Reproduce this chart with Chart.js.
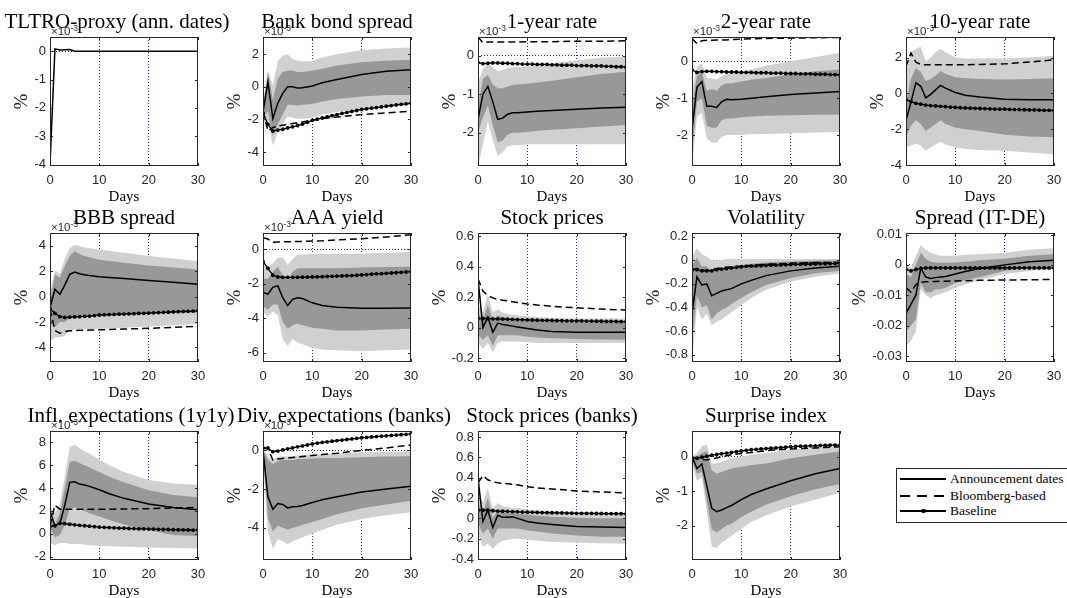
<!DOCTYPE html>
<html>
<head>
<meta charset="utf-8">
<script src="https://cdn.jsdelivr.net/npm/chart.js@4.4.1/dist/chart.umd.min.js"></script>
<style>
  body { margin: 0; background: #fff; width: 1067px; height: 598px; overflow: hidden; position: relative; }
  canvas { position: absolute; }
  #legend { position: absolute; left: 896px; top: 468px; width: 185px; height: 55px; box-sizing: border-box;
            border: 1px solid #262626; background: #fff; font-family: "Liberation Serif", serif; font-size: 13.5px; color: #000; }
  #legend .row { position: absolute; left: 3px; height: 16px; display: flex; align-items: center; white-space: nowrap; }
  #legend .smp { display: inline-block; position: relative; width: 46px; height: 1.5px; margin-right: 4px; background: #000; }
  #legend .dash { background: repeating-linear-gradient(to right, #000 0 10px, transparent 10px 17px); }
  #legend .smp i { position: absolute; left: 21px; top: -1.5px; width: 4.5px; height: 4.5px; border-radius: 50%; background: #000; }
</style>
</head>
<body>
<div id="legend">
  <div class="row" style="top:2px"><span class="smp"></span><span>Announcement dates</span></div>
  <div class="row" style="top:19px"><span class="smp dash"></span><span>Bloomberg-based</span></div>
  <div class="row" style="top:34px"><span class="smp"><i></i></span><span>Baseline</span></div>
</div>
<script>
// horizonte (días) de las series suaves y de la línea base
const days = [0, 1, 2, 3, 4, 5, 6, 7, 8, 10, 12, 15, 20, 25, 30];
const allDays = [0, 1, 2, 3, 4, 5, 6, 7, 8, 9, 10, 11, 12, 13, 14, 15, 16, 17, 18, 19, 20, 21, 22, 23, 24, 25, 26, 27, 28, 29, 30];
const xTicks = [0, 10, 20, 30];

// TLTRO-proxy (ann. dates), x10^-3
const tltroTicks = [-4, -3, -2, -1, 0];
const tltroSolid = [-4.0, 0.08, 0.04, 0.05, 0.06, 0, 0, 0, 0, 0, 0, 0, 0, 0, 0];

// Bank bond spread, x10^-3
const bankTicks = [-4, -2, 0, 2];
const bankSolid = [-1.55, 0.3, -1.95, -1.0, -0.4, 0.0, 0.0, -0.08, -0.06, 0.05, 0.25, 0.45, 0.75, 0.95, 1.05];
const bankDash = [-1.5, -2.7, -2.5, -2.4, -2.35, -2.3, -2.25, -2.2, -2.15, -2.05, -1.95, -1.85, -1.7, -1.6, -1.5];
const bankHi68 = [-1.2, 0.9, -0.8, 0.5, 0.9, 1.0, 1.0, 0.9, 0.9, 1.0, 1.1, 1.3, 1.5, 1.6, 1.65];
const bankLo68 = [-1.9, -1.5, -3.0, -2.3, -1.7, -1.1, -1.1, -1.15, -1.1, -1.05, -0.9, -0.75, -0.6, -0.5, -0.5];
const bankHi90 = [-1.0, 1.0, 0.1, 1.6, 1.9, 2.0, 1.7, 1.6, 1.55, 1.6, 1.8, 2.0, 2.25, 2.35, 2.4];
const bankLo90 = [-2.2, -2.1, -3.6, -2.8, -2.3, -1.8, -1.9, -1.95, -1.95, -1.9, -1.7, -1.55, -1.35, -1.2, -1.1];
const bankBase = [-1.6, -2.3, -2.7, -2.65, -2.6, -2.52, -2.45, -2.37, -2.28, -2.17, -2.05, -1.98, -1.91, -1.84, -1.77, -1.7,
                  -1.63, -1.57, -1.51, -1.45, -1.39, -1.35, -1.31, -1.27, -1.23, -1.19, -1.15, -1.11, -1.07, -1.04, -1.0];

// 1-year rate, x10^-3
const y1Ticks = [-2, -1, 0];
const y1Solid = [-1.65, -1.0, -0.8, -1.2, -1.65, -1.62, -1.52, -1.48, -1.48, -1.46, -1.44, -1.42, -1.39, -1.36, -1.34];
const y1Dash = [0.48, 0.33, 0.35, 0.35, 0.35, 0.35, 0.35, 0.35, 0.35, 0.36, 0.36, 0.36, 0.37, 0.37, 0.38];
const y1Hi68 = [-1.3, -0.6, -0.5, -0.75, -0.85, -0.85, -0.8, -0.76, -0.75, -0.73, -0.7, -0.65, -0.56, -0.48, -0.42];
const y1Lo68 = [-2.0, -1.6, -1.3, -1.8, -2.25, -2.2, -2.05, -2.0, -2.0, -1.98, -1.95, -1.92, -1.88, -1.84, -1.8];
const y1Hi90 = [-0.7, -0.35, -0.2, -0.3, -0.4, -0.38, -0.32, -0.3, -0.3, -0.28, -0.25, -0.2, -0.12, -0.06, -0.03];
const y1Lo90 = [-2.86, -2.3, -1.7, -2.2, -2.6, -2.5, -2.35, -2.32, -2.32, -2.3, -2.3, -2.3, -2.3, -2.3, -2.3];
const y1Base = [-0.18, -0.21, -0.2, -0.19, -0.19, -0.2, -0.2, -0.21, -0.21, -0.22, -0.22, -0.22, -0.23, -0.23, -0.23, -0.24,
                -0.24, -0.25, -0.25, -0.25, -0.26, -0.26, -0.26, -0.27, -0.27, -0.27, -0.28, -0.28, -0.29, -0.29, -0.3];

// 2-year rate, x10^-3
const y2Ticks = [-2, -1, 0];
const y2Solid = [-1.85, -0.7, -0.55, -1.22, -1.22, -1.25, -1.1, -1.03, -1.04, -1.03, -1.0, -0.96, -0.9, -0.86, -0.82];
const y2Dash = [0.62, 0.48, 0.56, 0.57, 0.57, 0.58, 0.58, 0.58, 0.59, 0.6, 0.61, 0.62, 0.63, 0.64, 0.65];
const y2Hi68 = [-1.2, -0.4, -0.3, -0.8, -0.75, -0.8, -0.65, -0.6, -0.6, -0.55, -0.5, -0.45, -0.35, -0.27, -0.22];
const y2Lo68 = [-2.5, -1.1, -1.0, -1.75, -1.8, -1.8, -1.6, -1.55, -1.55, -1.52, -1.5, -1.48, -1.46, -1.45, -1.45];
const y2Hi90 = [-0.8, -0.15, -0.05, -0.45, -0.45, -0.5, -0.4, -0.35, -0.32, -0.28, -0.22, -0.12, 0.0, 0.12, 0.23];
const y2Lo90 = [-2.84, -1.5, -1.4, -2.1, -2.2, -2.2, -2.05, -2.0, -2.0, -2.0, -1.98, -1.97, -1.95, -1.93, -1.92];
const y2Base = [-0.23, -0.3, -0.28, -0.27, -0.27, -0.28, -0.28, -0.29, -0.29, -0.29, -0.3, -0.3, -0.3, -0.31, -0.31, -0.31,
                -0.32, -0.32, -0.32, -0.33, -0.33, -0.33, -0.34, -0.34, -0.34, -0.35, -0.35, -0.35, -0.36, -0.36, -0.37];

// 10-year rate, x10^-3
const y10Ticks = [-4, -2, 0, 2];
const y10Solid = [-1.5, -0.5, 0.6, 0.4, -0.25, -0.05, 0.2, 0.45, 0.3, 0.05, -0.1, -0.2, -0.33, -0.35, -0.35];
const y10Dash = [1.5, 2.25, 1.75, 1.62, 1.6, 1.6, 1.6, 1.6, 1.6, 1.6, 1.6, 1.62, 1.65, 1.75, 1.88];
const y10Hi68 = [-0.5, 0.8, 1.4, 1.2, 0.7, 0.8, 1.0, 1.25, 1.1, 0.9, 0.85, 0.8, 0.78, 0.8, 0.85];
const y10Lo68 = [-2.4, -1.8, -1.5, -1.7, -2.1, -1.9, -1.7, -1.5, -1.7, -1.9, -2.0, -2.1, -2.3, -2.4, -2.45];
const y10Hi90 = [1.2, 2.3, 2.5, 2.6, 1.8, 2.0, 2.3, 2.5, 2.3, 2.0, 1.95, 1.95, 1.95, 2.0, 2.1];
const y10Lo90 = [-3.0, -2.9, -2.8, -2.9, -3.2, -3.0, -2.85, -2.7, -2.85, -3.0, -3.1, -3.15, -3.2, -3.3, -3.4];
const y10Base = [-0.35, -0.45, -0.55, -0.6, -0.65, -0.68, -0.7, -0.72, -0.74, -0.76, -0.78, -0.8, -0.81, -0.82, -0.83, -0.84,
                 -0.85, -0.86, -0.87, -0.88, -0.88, -0.89, -0.9, -0.9, -0.91, -0.92, -0.92, -0.93, -0.94, -0.94, -0.95];

// BBB spread, x10^-3
const bbbTicks = [-4, -2, 0, 2, 4];
const bbbSolid = [-0.86, 0.57, 0.18, 0.9, 1.74, 1.92, 1.8, 1.72, 1.66, 1.56, 1.5, 1.42, 1.27, 1.12, 0.96];
const bbbDash = [-1.0, -2.67, -2.88, -2.75, -2.7, -2.68, -2.66, -2.65, -2.64, -2.62, -2.6, -2.56, -2.5, -2.42, -2.34];
const bbbHi68 = [-0.3, 1.74, 1.5, 2.4, 3.2, 3.56, 3.35, 3.2, 3.1, 2.9, 2.8, 2.65, 2.45, 2.28, 2.13];
const bbbLo68 = [-2.15, -2.4, -2.0, -2.0, -1.7, -1.64, -1.6, -1.58, -1.55, -1.5, -1.48, -1.45, -1.38, -1.3, -1.25];
const bbbHi90 = [0.2, 2.05, 1.8, 3.0, 3.8, 4.08, 3.95, 3.85, 3.8, 3.7, 3.6, 3.45, 3.2, 3.0, 2.78];
const bbbLo90 = [-3.6, -3.2, -3.2, -3.1, -2.7, -2.6, -2.58, -2.57, -2.56, -2.55, -2.5, -2.45, -2.35, -2.25, -2.15];
const bbbBase = [-0.94, -1.32, -1.58, -1.64, -1.62, -1.6, -1.58, -1.56, -1.54, -1.5, -1.45, -1.44, -1.42, -1.41, -1.39, -1.38,
                 -1.36, -1.35, -1.33, -1.32, -1.3, -1.28, -1.26, -1.25, -1.23, -1.21, -1.19, -1.17, -1.16, -1.14, -1.12];

// AAA yield, x10^-3
const aaaTicks = [-6, -4, -2, 0];
const aaaSolid = [-2.5, -2.6, -2.2, -2.1, -2.8, -3.25, -2.9, -2.8, -2.85, -3.1, -3.25, -3.35, -3.42, -3.42, -3.4];
const aaaDash = [0.67, 0.6, 0.42, 0.43, 0.44, 0.44, 0.45, 0.45, 0.46, 0.48, 0.5, 0.55, 0.62, 0.72, 0.85];
const aaaHi68 = [-1.7, -1.7, -1.3, -1.0, -1.5, -1.8, -1.3, -1.1, -1.1, -1.1, -1.1, -1.1, -1.05, -1.02, -1.0];
const aaaLo68 = [-3.3, -3.5, -3.2, -3.2, -4.2, -4.6, -4.4, -4.3, -4.4, -4.55, -4.6, -4.7, -4.7, -4.65, -4.6];
const aaaHi90 = [-0.9, -1.0, -0.8, -0.5, -0.45, -0.9, -0.55, -0.3, -0.3, -0.25, -0.25, -0.25, -0.25, -0.2, -0.15];
const aaaLo90 = [-3.6, -3.9, -3.6, -3.8, -5.2, -5.6, -5.2, -5.4, -5.5, -5.7, -5.8, -5.85, -5.9, -5.85, -5.8];
const aaaBase = [-0.7, -1.1, -1.5, -1.6, -1.62, -1.62, -1.62, -1.62, -1.61, -1.61, -1.6, -1.59, -1.58, -1.57, -1.56, -1.55,
                 -1.54, -1.53, -1.52, -1.5, -1.48, -1.46, -1.44, -1.42, -1.41, -1.39, -1.37, -1.35, -1.33, -1.31, -1.29];

// Stock prices
const stockTicks = [-0.2, 0, 0.2, 0.4, 0.6];
const stockSolid = [0.32, 0.0, 0.07, -0.03, 0.03, 0.02, 0.015, 0.01, 0.005, -0.005, -0.015, -0.025, -0.03, -0.03, -0.03];
const stockDash = [0.32, 0.24, 0.21, 0.195, 0.185, 0.18, 0.175, 0.17, 0.165, 0.155, 0.148, 0.14, 0.13, 0.122, 0.115];
const stockHi68 = [0.1, 0.05, 0.15, 0.05, 0.08, 0.07, 0.065, 0.06, 0.055, 0.05, 0.045, 0.04, 0.035, 0.035, 0.035];
const stockLo68 = [-0.05, -0.08, -0.05, -0.12, -0.05, -0.05, -0.05, -0.05, -0.05, -0.06, -0.065, -0.07, -0.075, -0.078, -0.08];
const stockHi90 = [0.15, 0.1, 0.22, 0.1, 0.12, 0.1, 0.09, 0.085, 0.08, 0.075, 0.07, 0.065, 0.06, 0.06, 0.06];
const stockLo90 = [-0.1, -0.14, -0.1, -0.16, -0.1, -0.09, -0.09, -0.09, -0.09, -0.095, -0.1, -0.1, -0.1, -0.1, -0.1];
const stockBase = [0.06, 0.06, 0.06, 0.058, 0.057, 0.056, 0.055, 0.054, 0.053, 0.052, 0.051, 0.05, 0.049, 0.048, 0.048, 0.047,
                   0.046, 0.046, 0.045, 0.045, 0.044, 0.044, 0.043, 0.043, 0.042, 0.042, 0.041, 0.041, 0.041, 0.04, 0.04];

// Volatility
const volTicks = [-0.8, -0.6, -0.4, -0.2, 0, 0.2];
const volSolid = [-0.45, -0.14, -0.21, -0.2, -0.3, -0.28, -0.26, -0.25, -0.24, -0.2, -0.17, -0.13, -0.09, -0.065, -0.05];
const volDash = [-0.08, -0.07, -0.08, -0.09, -0.08, -0.07, -0.065, -0.06, -0.055, -0.05, -0.045, -0.035, -0.025, -0.02, -0.02];
const volHi68 = [-0.05, 0.02, -0.05, -0.05, -0.1, -0.08, -0.07, -0.06, -0.05, -0.04, -0.03, -0.02, -0.01, -0.005, 0.0];
const volLo68 = [-0.7, -0.3, -0.4, -0.38, -0.5, -0.45, -0.42, -0.4, -0.37, -0.32, -0.27, -0.21, -0.15, -0.11, -0.09];
const volHi90 = [0.03, 0.1, 0.05, 0.03, 0.0, 0.0, 0.0, 0.01, 0.01, 0.01, 0.01, 0.01, 0.01, 0.01, 0.01];
const volLo90 = [-0.85, -0.4, -0.5, -0.45, -0.55, -0.52, -0.5, -0.47, -0.44, -0.38, -0.32, -0.25, -0.18, -0.14, -0.11];
const volBase = [-0.08, -0.08, -0.09, -0.09, -0.09, -0.08, -0.075, -0.07, -0.065, -0.06, -0.055, -0.052, -0.05, -0.048, -0.046, -0.044,
                 -0.042, -0.041, -0.04, -0.038, -0.036, -0.035, -0.034, -0.033, -0.032, -0.031, -0.03, -0.029, -0.028, -0.027, -0.026];

// Spread (IT-DE)
const spreadTicks = [-0.03, -0.02, -0.01, 0, 0.01];
const spreadSolid = [-0.016, -0.013, -0.01, -0.001, -0.004, -0.0045, -0.0042, -0.004, -0.0038, -0.003, -0.0022, -0.0012, 0.0, 0.001, 0.0015];
const spreadDash = [-0.0075, -0.009, -0.0065, -0.0057, -0.0056, -0.0055, -0.0055, -0.0054, -0.0054, -0.0053, -0.0052, -0.0051, -0.005, -0.0049, -0.0048];
const spreadHi68 = [-0.003, -0.004, 0.0, 0.004, 0.002, 0.001, 0.0008, 0.0007, 0.0007, 0.0008, 0.001, 0.0015, 0.002, 0.003, 0.0035];
const spreadLo68 = [-0.022, -0.02, -0.018, -0.006, -0.009, -0.009, -0.008, -0.008, -0.0075, -0.006, -0.005, -0.004, -0.002, -0.001, -0.0005];
const spreadHi90 = [0.0, -0.001, 0.003, 0.0065, 0.005, 0.004, 0.0035, 0.003, 0.003, 0.003, 0.0033, 0.0035, 0.004, 0.005, 0.0055];
const spreadLo90 = [-0.027, -0.025, -0.022, -0.008, -0.01, -0.011, -0.01, -0.0095, -0.009, -0.0075, -0.0065, -0.005, -0.003, -0.002, -0.0015];
const spreadBase = [-0.0015, -0.002, -0.0015, -0.0012, -0.001, -0.001, -0.001, -0.001, -0.001, -0.001, -0.001, -0.001, -0.001, -0.001, -0.001, -0.001,
                    -0.001, -0.001, -0.001, -0.001, -0.001, -0.001, -0.001, -0.001, -0.001, -0.001, -0.001, -0.001, -0.001, -0.001, -0.001];

// Infl. expectations (1y1y), x10^-3
const inflTicks = [-2, 0, 2, 4, 6, 8];
const inflSolid = [2.0, 0.7, 0.9, 2.5, 4.5, 4.55, 4.35, 4.27, 4.15, 3.85, 3.5, 3.1, 2.6, 2.3, 2.1];
const inflDash = [0.7, 2.5, 2.15, 2.15, 2.15, 2.15, 2.15, 2.15, 2.15, 2.15, 2.15, 2.17, 2.2, 2.25, 2.3];
const inflHi68 = [1.5, 0.8, 1.8, 4.0, 6.3, 6.4, 6.2, 6.0, 5.8, 5.4, 5.0, 4.5, 3.8, 3.4, 3.2];
const inflLo68 = [0.5, -0.3, -0.1, 0.8, 2.2, 2.3, 2.2, 2.0, 1.8, 1.5, 1.2, 0.8, 0.3, -0.1, -0.2];
const inflHi90 = [2.4, 1.8, 2.6, 5.0, 7.6, 7.8, 7.5, 7.2, 7.0, 6.5, 6.0, 5.4, 4.7, 4.4, 4.3];
const inflLo90 = [-0.8, -1.0, -0.8, -0.8, -0.9, -0.9, -0.9, -0.95, -1.0, -1.05, -1.1, -1.15, -1.2, -1.25, -1.3];
const inflBase = [0.67, 0.7, 0.93, 0.88, 0.83, 0.78, 0.74, 0.7, 0.66, 0.62, 0.58, 0.56, 0.54, 0.52, 0.5, 0.48,
                  0.46, 0.45, 0.43, 0.42, 0.41, 0.4, 0.39, 0.38, 0.37, 0.36, 0.35, 0.34, 0.33, 0.32, 0.31];

// Div. expectations (banks), x10^-3
const divTicks = [-4, -2, 0];
const divSolid = [0.0, -2.4, -3.05, -2.75, -2.8, -2.98, -2.92, -2.9, -2.85, -2.7, -2.55, -2.4, -2.15, -2.0, -1.85];
const divDash = [0.1, 0.1, -0.5, -0.45, -0.42, -0.4, -0.37, -0.35, -0.32, -0.27, -0.22, -0.15, 0.0, 0.12, 0.28];
const divHi68 = [0.0, -0.5, -0.7, -0.55, -0.5, -0.5, -0.5, -0.45, -0.45, -0.42, -0.4, -0.4, -0.36, -0.32, -0.3];
const divLo68 = [-0.2, -3.5, -4.2, -3.9, -4.0, -4.1, -4.0, -3.95, -3.85, -3.7, -3.55, -3.3, -3.0, -2.8, -2.6];
const divHi90 = [0.1, -0.3, -0.5, -0.35, -0.3, -0.3, -0.3, -0.25, -0.25, -0.2, -0.2, -0.15, -0.1, -0.08, -0.05];
const divLo90 = [-0.5, -4.2, -5.1, -4.6, -4.7, -4.85, -4.7, -4.6, -4.5, -4.3, -4.1, -3.85, -3.55, -3.35, -3.2];
const divBase = [0.14, 0.12, -0.07, -0.04, 0.02, 0.08, 0.13, 0.18, 0.23, 0.28, 0.33, 0.37, 0.41, 0.44, 0.47, 0.5,
                 0.53, 0.56, 0.59, 0.62, 0.65, 0.67, 0.69, 0.71, 0.73, 0.75, 0.77, 0.79, 0.81, 0.83, 0.85];

// Stock prices (banks)
const stockBTicks = [-0.4, -0.2, 0, 0.2, 0.4, 0.6, 0.8];
const stockBSolid = [0.4, -0.03, 0.08, -0.09, 0.03, 0.01, 0.01, 0.015, 0.0, -0.03, -0.045, -0.06, -0.08, -0.085, -0.09];
const stockBDash = [0.35, 0.42, 0.38, 0.36, 0.35, 0.345, 0.34, 0.335, 0.33, 0.31, 0.3, 0.29, 0.27, 0.26, 0.25];
const stockBHi68 = [0.15, 0.05, 0.2, 0.0, 0.08, 0.06, 0.05, 0.05, 0.045, 0.035, 0.025, 0.015, 0.005, 0.0, 0.0];
const stockBLo68 = [-0.05, -0.15, -0.1, -0.2, -0.1, -0.1, -0.1, -0.1, -0.1, -0.12, -0.13, -0.15, -0.17, -0.18, -0.18];
const stockBHi90 = [0.3, 0.15, 0.3, 0.1, 0.15, 0.12, 0.11, 0.1, 0.1, 0.09, 0.08, 0.07, 0.06, 0.055, 0.05];
const stockBLo90 = [-0.15, -0.28, -0.25, -0.3, -0.25, -0.22, -0.21, -0.2, -0.2, -0.21, -0.22, -0.23, -0.24, -0.245, -0.25];
const stockBBase = [0.08, 0.08, 0.08, 0.075, 0.072, 0.07, 0.068, 0.066, 0.064, 0.062, 0.06, 0.059, 0.058, 0.057, 0.056, 0.055,
                    0.054, 0.053, 0.052, 0.051, 0.05, 0.05, 0.049, 0.049, 0.048, 0.048, 0.047, 0.047, 0.046, 0.046, 0.045];

// Surprise index
const surpTicks = [-2, -1, 0];
const surpSolid = [0.0, -0.35, -0.22, -0.85, -1.5, -1.6, -1.55, -1.48, -1.42, -1.25, -1.1, -0.94, -0.7, -0.5, -0.35];
const surpDash = [-0.05, -0.05, -0.08, -0.1, -0.07, -0.04, -0.01, 0.02, 0.05, 0.09, 0.12, 0.17, 0.22, 0.25, 0.28];
const surpHi68 = [0.0, 0.0, 0.1, 0.15, -0.4, -0.5, -0.45, -0.4, -0.35, -0.3, -0.25, -0.2, -0.05, 0.05, 0.15];
const surpLo68 = [-0.1, -0.5, -0.45, -1.3, -2.1, -2.2, -2.1, -2.0, -1.95, -1.75, -1.6, -1.4, -1.15, -0.95, -0.8];
const surpHi90 = [0.0, 0.1, 0.3, 0.35, -0.2, -0.2, -0.15, -0.1, -0.05, 0.0, 0.05, 0.1, 0.2, 0.25, 0.3];
const surpLo90 = [-0.2, -0.7, -0.6, -1.6, -2.6, -2.65, -2.5, -2.4, -2.3, -2.1, -1.9, -1.7, -1.45, -1.25, -1.05];
const surpBase = [-0.03, -0.05, -0.02, 0.01, 0.04, 0.06, 0.08, 0.1, 0.12, 0.14, 0.16, 0.18, 0.2, 0.21, 0.22, 0.23,
                  0.24, 0.25, 0.26, 0.27, 0.28, 0.29, 0.3, 0.3, 0.31, 0.31, 0.32, 0.32, 0.33, 0.33, 0.33];

// tabla de paneles (orden de lectura, 5 por fila)
const panels = [
    { title: "TLTRO-proxy (ann. dates)", dx: -7, exp: true, min: -4.05, max: 0.5, ticks: tltroTicks, solid: tltroSolid },
    { title: "Bank bond spread", exp: true, min: -4.85, max: 3.05, ticks: bankTicks, solid: bankSolid, dash: bankDash, base: bankBase, hi68: bankHi68, lo68: bankLo68, hi90: bankHi90, lo90: bankLo90 },
    { title: "1-year rate", exp: true, min: -2.86, max: 0.48, ticks: y1Ticks, solid: y1Solid, dash: y1Dash, base: y1Base, hi68: y1Hi68, lo68: y1Lo68, hi90: y1Hi90, lo90: y1Lo90 },
    { title: "2-year rate", exp: true, min: -2.84, max: 0.66, ticks: y2Ticks, solid: y2Solid, dash: y2Dash, base: y2Base, hi68: y2Hi68, lo68: y2Lo68, hi90: y2Hi90, lo90: y2Lo90 },
    { title: "10-year rate", exp: true, min: -4.05, max: 3.15, ticks: y10Ticks, solid: y10Solid, dash: y10Dash, base: y10Base, hi68: y10Hi68, lo68: y10Lo68, hi90: y10Hi90, lo90: y10Lo90 },
    { title: "BBB spread", exp: true, min: -5.15, max: 5.0, ticks: bbbTicks, solid: bbbSolid, dash: bbbDash, base: bbbBase, hi68: bbbHi68, lo68: bbbLo68, hi90: bbbHi90, lo90: bbbLo90 },
    { title: "AAA yield", exp: true, min: -6.53, max: 0.95, ticks: aaaTicks, solid: aaaSolid, dash: aaaDash, base: aaaBase, hi68: aaaHi68, lo68: aaaLo68, hi90: aaaHi90, lo90: aaaLo90 },
    { title: "Stock prices", min: -0.225, max: 0.62, ticks: stockTicks, solid: stockSolid, dash: stockDash, base: stockBase, hi68: stockHi68, lo68: stockLo68, hi90: stockHi90, lo90: stockLo90 },
    { title: "Volatility", min: -0.86, max: 0.23, ticks: volTicks, solid: volSolid, dash: volDash, base: volBase, hi68: volHi68, lo68: volLo68, hi90: volHi90, lo90: volLo90 },
    { title: "Spread (IT-DE)", min: -0.032, max: 0.0105, ticks: spreadTicks, solid: spreadSolid, dash: spreadDash, base: spreadBase, hi68: spreadHi68, lo68: spreadLo68, hi90: spreadHi90, lo90: spreadLo90 },
    { title: "Infl. expectations (1y1y)", dx: 7, exp: true, min: -2.3, max: 9.0, ticks: inflTicks, solid: inflSolid, dash: inflDash, base: inflBase, hi68: inflHi68, lo68: inflLo68, hi90: inflHi90, lo90: inflLo90 },
    { title: "Div. expectations (banks)", dx: 7, exp: true, min: -5.67, max: 1.0, ticks: divTicks, solid: divSolid, dash: divDash, base: divBase, hi68: divHi68, lo68: divLo68, hi90: divHi90, lo90: divLo90 },
    { title: "Stock prices (banks)", min: -0.41, max: 0.86, ticks: stockBTicks, solid: stockBSolid, dash: stockBDash, base: stockBBase, hi68: stockBHi68, lo68: stockBLo68, hi90: stockBHi90, lo90: stockBLo90 },
    { title: "Surprise index", min: -3.0, max: 0.74, ticks: surpTicks, solid: surpSolid, dash: surpDash, base: surpBase, hi68: surpHi68, lo68: surpLo68, hi90: surpHi90, lo90: surpLo90 }
];

// geometría de la figura
const colLeft = [50, 263, 478, 692, 906];
const rowTop = [37, 233, 431];
const plotW = 148, plotH = 129;
const padL = 70, padR = 70, padT = 45, padB = 40, yAxW = 40;

const LIGHT = "#d0d0d0";
const DARK = "#989898";
const REF = "rgba(30, 30, 140, 0.95)";
const TICK = "#262626";

Chart.defaults.font.family = '"Liberation Sans", Arial, sans-serif';
Chart.defaults.color = TICK;

function pts(xs, ys) {
    return ys.map((v, i) => ({ x: xs[i], y: v }));
}

function fmt(v) {
    return String(parseFloat(v.toFixed(4)));
}

// marco, ticks interiores, título, exponente y etiqueta "%"
const framePlugin = {
    id: "frame",
    afterDraw(chart) {
        const p = chart.options.plugins.frame;
        const { ctx, chartArea: a } = chart;
        const sx = chart.scales.x, sy = chart.scales.y;
        ctx.save();
        ctx.strokeStyle = TICK;
        ctx.lineWidth = 1;
        ctx.strokeRect(a.left + 0.5, a.top + 0.5, a.width - 1, a.height - 1);
        ctx.beginPath();
        sx.ticks.forEach((t) => {
            const px = Math.round(sx.getPixelForValue(t.value)) + 0.5;
            ctx.moveTo(px, a.bottom); ctx.lineTo(px, a.bottom - 3);
            ctx.moveTo(px, a.top); ctx.lineTo(px, a.top + 3);
        });
        sy.ticks.forEach((t) => {
            const py = Math.round(sy.getPixelForValue(t.value)) + 0.5;
            ctx.moveTo(a.left, py); ctx.lineTo(a.left + 3, py);
            ctx.moveTo(a.right, py); ctx.lineTo(a.right - 3, py);
        });
        ctx.stroke();

        // etiqueta del eje y
        ctx.font = '13px "Liberation Sans", Arial, sans-serif';
        const widest = Math.max(...sy.ticks.map((t) => ctx.measureText(String(t.label)).width));
        ctx.fillStyle = TICK;
        ctx.save();
        ctx.translate(a.left - 4 - widest - 12, (a.top + a.bottom) / 2);
        ctx.rotate(-Math.PI / 2);
        ctx.font = '19px "Liberation Serif", serif';
        ctx.textAlign = "center";
        ctx.textBaseline = "middle";
        ctx.fillText("%", 0, 0);
        ctx.restore();

        // exponente
        if (p.exp) {
            ctx.textAlign = "left";
            ctx.textBaseline = "alphabetic";
            ctx.font = '11.5px "Liberation Sans", Arial, sans-serif';
            const base = "\u00d710";
            ctx.fillText(base, a.left + 1, a.top - 2);
            const w = ctx.measureText(base).width;
            ctx.font = '8.5px "Liberation Sans", Arial, sans-serif';
            ctx.fillText("-3", a.left + 1 + w, a.top - 6);
        }

        // título
        ctx.fillStyle = "#000";
        ctx.font = '21px "Liberation Serif", serif';
        ctx.textAlign = "center";
        ctx.textBaseline = "alphabetic";
        ctx.fillText(p.title, (a.left + a.right) / 2 + (p.dx || 0), a.top - 9);
        ctx.restore();
    }
};

function buildDatasets(p) {
    const sets = [];
    sets.push({ data: pts(days, p.solid), borderColor: "#000", borderWidth: 1.5, pointRadius: 0, fill: false });
    if (p.dash) {
        sets.push({ data: pts(days, p.dash), borderColor: "#000", borderWidth: 1.5, borderDash: [7, 4], pointRadius: 0, fill: false });
    }
    if (p.base) {
        sets.push({ data: pts(allDays, p.base), borderColor: "#000", borderWidth: 1.3, pointRadius: 1.9,
                    pointBackgroundColor: "#000", pointBorderWidth: 0, fill: false });
    }
    if (p.hi68) {
        sets.push({ data: pts(days, p.hi68), fill: "+1", backgroundColor: DARK, borderColor: "transparent", borderWidth: 0, pointRadius: 0 });
        sets.push({ data: pts(days, p.lo68), fill: false, borderColor: "transparent", borderWidth: 0, pointRadius: 0 });
    }
    if (p.hi90) {
        sets.push({ data: pts(days, p.hi90), fill: "+1", backgroundColor: LIGHT, borderColor: "transparent", borderWidth: 0, pointRadius: 0 });
        sets.push({ data: pts(days, p.lo90), fill: false, borderColor: "transparent", borderWidth: 0, pointRadius: 0 });
    }
    return sets;
}

panels.forEach((p, i) => {
    const col = i % 5, row = Math.floor(i / 5);
    const canvas = document.createElement("canvas");
    canvas.width = padL + plotW + padR;
    canvas.height = padT + plotH + padB;
    canvas.style.left = colLeft[col] - padL + "px";
    canvas.style.top = rowTop[row] - padT + "px";
    document.body.appendChild(canvas);

    new Chart(canvas.getContext("2d"), {
        type: "line",
        data: { datasets: buildDatasets(p) },
        options: {
            responsive: false,
            animation: false,
            events: [],
            layout: { padding: { left: padL - yAxW, right: padR, top: padT, bottom: 0 } },
            elements: { line: { tension: 0 } },
            plugins: {
                legend: { display: false },
                tooltip: { enabled: false },
                frame: { title: p.title, dx: p.dx, exp: p.exp }
            },
            scales: {
                x: {
                    type: "linear",
                    min: 0,
                    max: 30,
                    bounds: "data",
                    z: 1,
                    afterBuildTicks: (s) => { s.ticks = xTicks.map((v) => ({ value: v })); },
                    afterFit: (s) => { s.height = padB; },
                    grid: {
                        drawTicks: false,
                        lineWidth: 1,
                        color: (c) => (c.tick && (c.tick.value === 10 || c.tick.value === 20) ? REF : "transparent")
                    },
                    border: { display: false, dash: [1, 2] },
                    ticks: { font: { size: 13 }, color: TICK, padding: 7, maxRotation: 0, autoSkip: false, callback: (v) => fmt(v) },
                    title: { display: true, text: "Days", color: "#000", padding: { top: 0, bottom: 0 },
                             font: { family: '"Liberation Serif", serif', size: 15 } }
                },
                y: {
                    type: "linear",
                    min: p.min,
                    max: p.max,
                    bounds: "data",
                    z: 1,
                    afterBuildTicks: (s) => { s.ticks = p.ticks.map((v) => ({ value: v })); },
                    afterFit: (s) => { s.width = yAxW; },
                    grid: {
                        drawTicks: false,
                        lineWidth: 1,
                        color: (c) => (c.tick && c.tick.value === 0 ? REF : "transparent")
                    },
                    border: { display: false, dash: [1, 2] },
                    ticks: { font: { size: 13 }, color: TICK, padding: 4, autoSkip: false, callback: (v) => fmt(v) }
                }
            }
        },
        plugins: [framePlugin]
    });
});
</script>
</body>
</html>
